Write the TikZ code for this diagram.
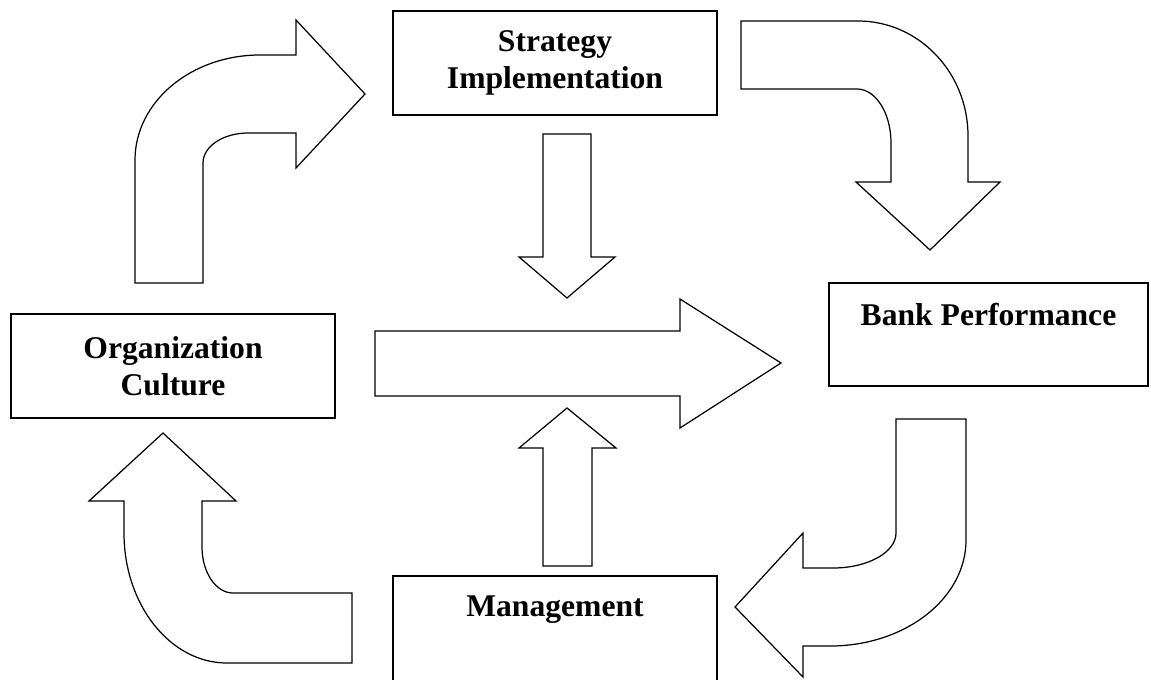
\documentclass[tikz,border=0pt]{standalone}
\usepackage{fontspec}
\setmainfont{Liberation Serif}
\usetikzlibrary{calc}

\begin{document}
\begin{tikzpicture}[x=0.02cm,y=-0.02cm,
    box/.style={draw, line width=0.8pt, inner sep=0pt},
    lbl/.style={align=center, font=\bfseries\fontsize{18}{21}\selectfont},
    blockarrow/.style={draw, line width=0.7pt, line join=miter}]
    \def\pxu{0.02cm}
    \useasboundingbox (0,0) rectangle (1151,679);
    % boxes
    \node [box, lbl, minimum width=324*\pxu, minimum height=104*\pxu] (strat) at (555,63) {Strategy\\Implementation};
    \node [box, lbl, minimum width=324*\pxu, minimum height=104*\pxu] (culture) at (173,366) {Organization\\Culture};
    \node [box, minimum width=319*\pxu, minimum height=103*\pxu] (bank) at (988.5,334.5) {};
    \node [box, minimum width=324*\pxu, minimum height=120*\pxu] (mgmt) at (555,636) {};
    \node [lbl] (banktxt) at ([yshift=-32*\pxu]bank.north) {Bank Performance};
    \node [lbl] (mgmttxt) at ([yshift=-34*\pxu]mgmt.north) {Management};
    % curved arrows round the loop
    \draw [blockarrow] (135,283) -- (135,160) arc (180:270:125 and 105) -- (296,55) -- (296,20)
      -- (365,94) -- (296,168) -- (296,133) -- (248,133) arc (270:180:45 and 30) -- (203,283) -- cycle;
    \draw [blockarrow] (741,21) -- (858,21) arc (270:360:110 and 115) -- (968,182) -- (1000,182)
      -- (930,250) -- (856,182) -- (891,182) -- (891,143) arc (0:-90:34 and 54) -- (741,89) -- cycle;
    \draw [blockarrow] (896,419) -- (896,533) arc (0:90:63 and 35) -- (803,568) -- (803,533)
      -- (735,607) -- (803,677) -- (803,646) -- (830,646) arc (90:0:136 and 106) -- (966,419) -- cycle;
    \draw [blockarrow] (352,593) -- (233,593) arc (90:180:31 and 46) -- (202,501) -- (236,501)
      -- (163,433) -- (89,501) -- (124,501) -- (124,533) arc (180:90:103 and 130) -- (352,663) -- cycle;
    % straight arrows in the middle
    \draw [blockarrow] (543,134) -- (591,134) -- (591,257) -- (615,257) -- (567,298) -- (519,257) -- (543,257) -- cycle;
    \draw [blockarrow] (543,566) -- (592,566) -- (592,448) -- (616,448) -- (567,408) -- (519,448) -- (543,448) -- cycle;
    \draw [blockarrow] (375,331) -- (680,331) -- (680,299) -- (781,363) -- (680,428) -- (680,396) -- (375,396) -- cycle;
\end{tikzpicture}
\end{document}
